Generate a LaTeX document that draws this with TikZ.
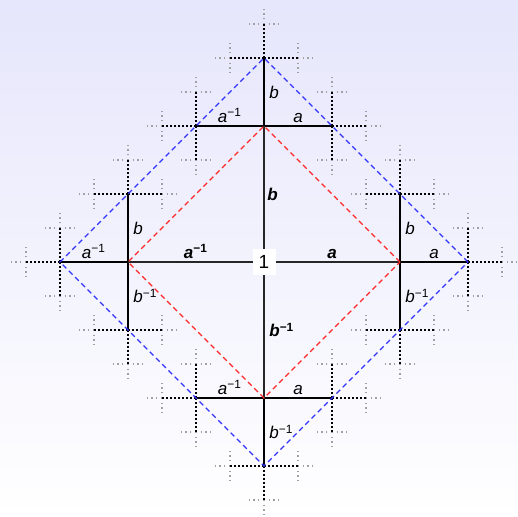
\documentclass[tikz,border=0pt]{standalone}
\usepackage{fontspec}
\setmainfont{Liberation Sans}
\newcommand\myinv{\textsuperscript{\upshape −1}}
\definecolor{bgtop}{RGB}{230,230,252}
\definecolor{dblue}{RGB}{51,51,255}
\definecolor{dred}{RGB}{255,40,40}
\definecolor{lvgray}{RGB}{160,160,165}
\begin{document}
\begin{tikzpicture}[x=0.5pt,y=0.5pt,
  lone/.style={line width=1.1pt,black!85},
  ltwo/.style={line width=0.9pt,black},
  lthree/.style={line width=0.9pt,black,dash pattern=on 0.9pt off 1.1pt},
  lfour/.style={line width=0.7pt,lvgray,dash pattern=on 0.7pt off 1.6pt},
  bluedash/.style={line width=0.6pt,dblue,dash pattern=on 2.6pt off 1.8pt},
  reddash/.style={line width=0.6pt,dred,dash pattern=on 2.6pt off 1.8pt},
  lab/.style={font=\fontsize{8.5}{10}\selectfont\itshape,inner sep=1pt},
  blab/.style={font=\fontsize{8.5}{10}\selectfont\bfseries\itshape,inner sep=1pt}]
\shade[top color=bgtop,bottom color=white] (-264,-255) rectangle (254,262);
\useasboundingbox (-264,-255) rectangle (254,262);
\coordinate (O) at (0,0);
% level 4
\foreach \a in {0,90,180,270}{
 \foreach \b in {-90,0,90}{
  \foreach \c in {-90,0,90}{
   \foreach \d in {-90,0,90}{
    \draw[lfour] (\a:136) ++(\a+\b:68) ++(\a+\b+\c:34) -- ++(\a+\b+\c+\d:17);
}}}}
% level 3
\foreach \a in {0,90,180,270}{
 \foreach \b in {-90,0,90}{
  \foreach \c in {-90,0,90}{
    \draw[lthree] (\a:136) ++(\a+\b:68) -- ++(\a+\b+\c:34);
}}}
% level 2
\foreach \a in {0,90,180,270}{
 \foreach \b in {-90,0,90}{
    \draw[ltwo] (\a:136) -- ++(\a+\b:68);
}}
% level 1
\coordinate (R1) at (136,0);
\coordinate (T1) at (0,136);
\coordinate (L1) at (-136,0);
\coordinate (B1) at (0,-136);
\draw[lone] (L1) -- (R1);
\draw[lone] (B1) -- (T1);
% diamonds
\coordinate (R2) at (204,0);
\coordinate (T2) at (0,204);
\coordinate (L2) at (-204,0);
\coordinate (B2) at (0,-204);
\draw[reddash] (R1) -- (T1) -- (L1) -- (B1) -- cycle;
\draw[bluedash] (R2) -- (T2) -- (L2) -- (B2) -- cycle;
% identity
\node[fill=white,inner sep=0pt,minimum width=11.5pt,minimum height=13pt,font=\fontsize{9.5}{10}\selectfont] (one) at (O) {1};
% level 1 labels
\node[blab,anchor=south] (la1) at (68,1) {a};
\node[blab,anchor=south] (lai1) at (-68,1) {a\myinv};
\node[blab,anchor=west] (lb1) at (1,68) {b};
\node[blab,anchor=west] (lbi1) at (3,-68) {b\myinv};
% level 2 labels: top
\node[lab,anchor=south] (tai) at (-34,137) {a\myinv};
\node[lab,anchor=south] (ta) at (34,137) {a};
\node[lab,anchor=west] (tb) at (3,170) {b};
% right
\node[lab,anchor=south] (ra) at (170,1) {a};
\node[lab,anchor=west] (rb) at (139,34) {b};
\node[lab,anchor=west] (rbi) at (139,-34) {b\myinv};
% left
\node[lab,anchor=south] (lai) at (-170,1) {a\myinv};
\node[lab,anchor=west] (lb) at (-133,34) {b};
\node[lab,anchor=west] (lbi) at (-133,-34) {b\myinv};
% bottom
\node[lab,anchor=south] (bai) at (-34,-135) {a\myinv};
\node[lab,anchor=south] (ba) at (34,-135) {a};
\node[lab,anchor=west] (bbi) at (3,-170) {b\myinv};
\end{tikzpicture}
\end{document}
